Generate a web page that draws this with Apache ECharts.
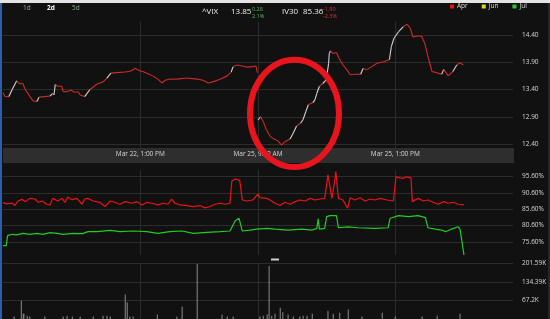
<!DOCTYPE html>
<html><head><meta charset="utf-8">
<script src="https://cdn.jsdelivr.net/npm/echarts@6/dist/echarts.min.js"></script>
<style>html,body{margin:0;padding:0;background:#111;}#c{width:550px;height:319px;}</style>
</head><body><div id="c"></div>
<script>
// ---- data (minutes from Mar 22 open; Mar 25 session starts at 390) ----
const sessionOpen = 390;
const priceTime = [0,3,9,14,21,26,30,34,38,46,52,55,64,72,76,78,80,83,90,92,98,104,109,115,118,125,128,133,144,153,159,165,174,187,196,202,210,214,220,229,237,243,248,255,266,281,297,306,314,321,332,343,349,352,358,366,373,381,387,389,
390,394,398,403,408,413,420,426,431,439,444,449,455,459,463,467,474,477,480,484,489,494,496,498,499,501,505,510,514,520,526,531,538,547,551,556,564,572,582,591,594,598,605,612,618,623,627,633,640,645,650,656,663,671,674,681,688,694,699,704];
const priceValue = [13.34,13.27,13.27,13.40,13.56,13.50,13.52,13.40,13.33,13.19,13.18,13.26,13.27,13.28,13.33,13.30,13.50,13.46,13.46,13.36,13.36,13.39,13.35,13.36,13.30,13.27,13.32,13.40,13.50,13.54,13.61,13.70,13.71,13.72,13.74,13.79,13.74,13.73,13.70,13.65,13.59,13.52,13.57,13.59,13.59,13.61,13.59,13.57,13.52,13.54,13.59,13.65,13.72,13.82,13.85,13.83,13.81,13.82,13.83,13.71,
12.84,12.90,12.81,12.66,12.55,12.50,12.46,12.38,12.44,12.49,12.60,12.73,12.78,12.85,12.99,13.12,13.16,13.21,13.33,13.46,13.51,13.57,13.71,13.88,14.06,14.11,14.06,14.08,13.97,13.85,13.76,13.67,13.68,13.68,13.79,13.76,13.82,13.88,13.91,13.95,14.19,14.34,14.46,14.55,14.60,14.52,14.36,14.38,14.38,14.25,14.00,13.73,13.71,13.68,13.77,13.65,13.73,13.85,13.89,13.85];

const aprTime = [0,6,14,18,23,29,34,41,49,54,60,67,72,76,84,90,95,99,106,113,121,125,130,138,148,156,164,171,179,187,197,205,213,220,228,237,245,252,258,263,271,281,291,301,309,317,324,332,340,347,350,355,362,366,373,382,390,393,404,411,416,424,431,439,447,454,462,470,477,485,492,497,500,503,507,509,513,520,527,531,538,546,554,561,569,577,587,597,601,607,612,617,624,626,635,643,650,658,666,674,681,689,696,705];
const aprValue = [87.6,87.2,87.4,86.7,88.1,88.6,87.9,88.9,88.7,87.7,88.1,87.1,86.9,88.9,88.1,88.9,87.7,89.3,88.5,88.9,87.1,88.7,88.9,88.1,87.7,86.4,88.1,87.7,87.1,87.9,87.4,87.9,86.9,87.7,87.4,86.9,87.4,87.1,88.7,87.4,86.9,86.7,86.4,86.7,86.0,86.4,87.1,87.4,87.1,87.4,94.2,94.8,94.5,88.4,88.1,88.4,90.2,89.1,88.9,88.1,87.4,86.7,87.7,87.1,87.9,88.4,88.1,88.9,88.4,88.7,88.9,96.1,96.1,88.9,94.0,97.1,88.9,88.4,85.9,89.1,88.4,89.1,88.1,88.7,88.4,88.9,88.4,88.1,95.5,95.2,95.0,95.5,95.2,87.9,88.9,88.1,88.4,87.7,87.1,87.9,87.4,87.7,87.1,86.9];
const junValue = [];
const julTime = [0,5,7,14,21,31,41,52,61,72,83,92,107,122,130,144,164,179,199,220,237,255,274,291,312,332,347,355,361,366,378,388,404,416,436,457,473,480,482,484,492,495,500,510,513,528,543,569,589,592,605,620,635,646,650,661,671,677,686,696,699,702,705];
const julValue = [74.4,74.4,77.5,77.9,77.7,78.2,77.9,78.2,77.9,78.4,78.2,77.9,78.2,78.1,78.7,78.7,79.1,78.7,78.9,78.7,78.2,78.7,78.9,78.2,78.5,78.7,78.9,82.0,82.8,78.9,79.2,79.5,79.7,79.5,79.2,79.5,79.2,79.7,82.6,79.5,79.7,83.3,83.6,83.6,79.9,80.2,79.9,79.7,79.9,82.8,83.6,83.3,83.6,83.0,79.9,79.5,79.2,78.7,79.5,80.2,79.5,75.6,71.6];

const volTime = [17,28,31,32,37,41,64,92,98,106,118,138,153,159,164,187,190,194,199,236,266,274,297,335,343,352,393,398,404,407,411,416,424,428,436,444,454,459,465,473,497,505,515,528,549,580,600,641,664,699];
const volValue = [8600,66000,19000,19000,12000,9000,9000,9000,12000,9000,9000,9000,12000,12000,9000,89000,60000,9000,9000,16000,9000,45000,199000,16000,9000,9000,9000,12000,16000,192000,12000,19000,41000,24000,16000,9000,9000,12000,12000,19000,30000,19000,23000,34000,9000,23000,9000,9000,12000,19000];

const priceTicks = [12.40, 12.90, 13.40, 13.90, 14.40];
const ivTicks = [75.6, 80.6, 85.6, 90.6, 95.6];
const volTicks = [0, 67196.67, 134393.33, 201590];
const timeMax = 780;
const timeTickAt = [210, 390, 600];
const timeTickLabels = ['Mar 22, 1:00 PM', 'Mar 25, 9:32 AM', 'Mar 25, 1:00 PM'];

// ---- build ----
const FONT = 'Open Sans';
const cats = Array.from({length: timeMax + 1}, (_, i) => String(i));
const segs = [];
for (let i = 1; i < priceTime.length; i++) {
  if (priceTime[i-1] < sessionOpen && priceTime[i] >= sessionOpen) continue;
  segs.push([priceTime[i-1], priceValue[i-1], priceTime[i], priceValue[i]]);
}
const zip = (a, b) => a.map((t, i) => [t, b[i]]);
const gridL = 3, gridR = 37;
const isTick = (idx) => timeTickAt.indexOf(idx) >= 0;
const GRIDC = '#2c2c2c';

function step(arr){ return Math.round((arr[1]-arr[0])*10000)/10000; }

const chart = echarts.init(document.getElementById('c'), null, {renderer:'canvas'});
const vxHidden = (g) => ({type:'value', gridIndex:g, min:0, max:timeMax, show:false});
const vlineX = (g, withLabels) => ({
  type:'category', gridIndex:g, data:cats, boundaryGap:false,
  axisLine:{show:false}, axisTick:{show:false},
  axisLabel: withLabels ? {show:true, interval:(i)=>isTick(i), margin:3, color:'#d6d6d6', fontSize:6.5, fontFamily:FONT,
    formatter:(v)=>{const k=timeTickAt.indexOf(+v); return k>=0?timeTickLabels[k]:'';}} : {show:false},
  splitLine:{show:true, interval:(i)=>isTick(i), lineStyle:{color:GRIDC, width:1}}
});
const yLab = {show:true, color:'#d6d6d6', fontSize:6.5, fontFamily:FONT, margin:9, align:'left'};

chart.setOption({
  backgroundColor:'#111111',
  animation:false,
  grid:[
    {left:gridL, right:gridR, top:35, height:109},
    {left:gridL, right:gridR, top:22, height:126},
    {left:gridL, right:gridR, top:176.5, height:65.3},
    {left:gridL, right:gridR, top:170, height:85},
    {left:gridL, right:gridR, top:263.3, height:56.1},
    {left:gridL, right:gridR, top:263, height:56.4}
  ],
  xAxis:[vxHidden(0), vlineX(1,true), vxHidden(2), vlineX(3,false), vxHidden(4), vlineX(5,false)],
  yAxis:[
    {type:'value', gridIndex:0, position:'right', min:priceTicks[0], max:priceTicks[priceTicks.length-1], interval:step(priceTicks),
      axisLine:{show:false}, axisTick:{show:false}, splitLine:{lineStyle:{color:GRIDC}},
      axisLabel:Object.assign({}, yLab, {formatter:(v)=>v.toFixed(2)})},
    {type:'value', gridIndex:1, show:false},
    {type:'value', gridIndex:2, position:'right', min:ivTicks[0], max:ivTicks[ivTicks.length-1], interval:step(ivTicks),
      axisLine:{show:false}, axisTick:{show:false}, splitLine:{lineStyle:{color:GRIDC}},
      axisLabel:Object.assign({}, yLab, {formatter:(v)=>v.toFixed(2)+'%'})},
    {type:'value', gridIndex:3, show:false},
    {type:'value', gridIndex:4, position:'right', min:0, max:volTicks[volTicks.length-1], interval:volTicks[volTicks.length-1]/(volTicks.length-1),
      axisLine:{show:false}, axisTick:{show:false}, splitLine:{lineStyle:{color:GRIDC}},
      axisLabel:Object.assign({}, yLab, {formatter:(v)=> v<1 ? '' : parseFloat((v/1000).toFixed(2))+'K'})},
    {type:'value', gridIndex:5, show:false}
  ],
  legend:{left:450, top:3, padding:0, itemWidth:4, itemHeight:4, itemGap:14, icon:'rect',
    textStyle:{color:'#dddddd', fontSize:6.5, fontFamily:FONT, padding:[0,0,0,-2]},
    data:['Apr','Jun','Jul']},
  series:[
    {type:'custom', name:'VIX', xAxisIndex:0, yAxisIndex:0, clip:false, data:segs,
      encode:{x:[0,2], y:[1,3]},
      renderItem:(params, api)=>{
        const t0 = api.value(0), v0 = api.value(1), t1 = api.value(2), v1 = api.value(3);
        const p0 = api.coord([t0, v0]);
        const p1 = api.coord([t1, v1]);
        const steepUp = (v1 - v0) / Math.max(1, t1 - t0) > 0.012;
        return {type:'line', shape:{x1:p0[0], y1:p0[1], x2:p1[0], y2:p1[1]},
          style:{stroke: steepUp ? '#d2d2d2' : '#cf2a2a', lineWidth:1.1}};
      }},
    {type:'line', name:'Apr', xAxisIndex:2, yAxisIndex:2, clip:false, showSymbol:false, data:zip(aprTime, aprValue),
      lineStyle:{color:'#ee1111', width:1.2}, itemStyle:{color:'#ee1111'}},
    {type:'line', name:'Jun', xAxisIndex:2, yAxisIndex:2, clip:false, showSymbol:false, data:junValue,
      lineStyle:{color:'#e6d21e', width:1.2}, itemStyle:{color:'#e6d21e'}},
    {type:'line', name:'Jul', xAxisIndex:2, yAxisIndex:2, clip:false, showSymbol:false, data:zip(julTime, julValue),
      lineStyle:{color:'#22cc22', width:1.2}, itemStyle:{color:'#22cc22'}},
    {type:'bar', name:'Volume', xAxisIndex:4, yAxisIndex:4, barWidth:1, data:zip(volTime, volValue),
      itemStyle:{color:'#8c8c8c'}}
  ],
  graphic:[
    {type:'rect', z:-10, shape:{x:3, y:148, width:511, height:15}, style:{fill:'#2e2e2e'}},
    {type:'rect', z:-10, shape:{x:0, y:0, width:550, height:3}, style:{fill:'#e4e4e4'}},
    {type:'rect', z:-10, shape:{x:0, y:3, width:2, height:316}, style:{fill:'#2d5ea6'}},
    {type:'rect', z:-10, shape:{x:548, y:3, width:2, height:316}, style:{fill:'#262626'}},
    {type:'rect', z:5, shape:{x:271, y:258.5, width:8, height:2}, style:{fill:'#cfcfcf'}},
    {type:'text', left:23, top:5, style:{text:'1d', fill:'#8fa88f', font:'6.5px "Open Sans"'}},
    {type:'text', left:47, top:5, style:{text:'2d', fill:'#ffffff', font:'bold 6.5px "Open Sans"'}},
    {type:'text', left:72, top:5, style:{text:'5d', fill:'#8fa88f', font:'6.5px "Open Sans"'}},
    {type:'text', left:202, top:8, style:{text:'^VIX', fill:'#eeeeee', font:'8px "Open Sans"'}},
    {type:'text', left:231, top:8, style:{text:'13.85', fill:'#eeeeee', font:'8px "Open Sans"'}},
    {type:'text', left:252, top:6, style:{text:'0.28', fill:'#5cb85c', font:'5.5px "Open Sans"'}},
    {type:'text', left:252, top:13, style:{text:'2.1%', fill:'#5cb85c', font:'5.5px "Open Sans"'}},
    {type:'text', left:282, top:8, style:{text:'IV30', fill:'#eeeeee', font:'8px "Open Sans"'}},
    {type:'text', left:303, top:8, style:{text:'85.36', fill:'#eeeeee', font:'8px "Open Sans"'}},
    {type:'text', left:323, top:6, style:{text:'-1.90', fill:'#e03333', font:'5.5px "Open Sans"'}},
    {type:'text', left:323, top:13, style:{text:'-2.3%', fill:'#e03333', font:'5.5px "Open Sans"'}},
    {type:'ellipse', z:100, shape:{cx:294.5, cy:113.4, rx:44.5, ry:53.6}, style:{fill:'none', stroke:'#e8151e', lineWidth:6}}
  ]
});
</script></body></html>
